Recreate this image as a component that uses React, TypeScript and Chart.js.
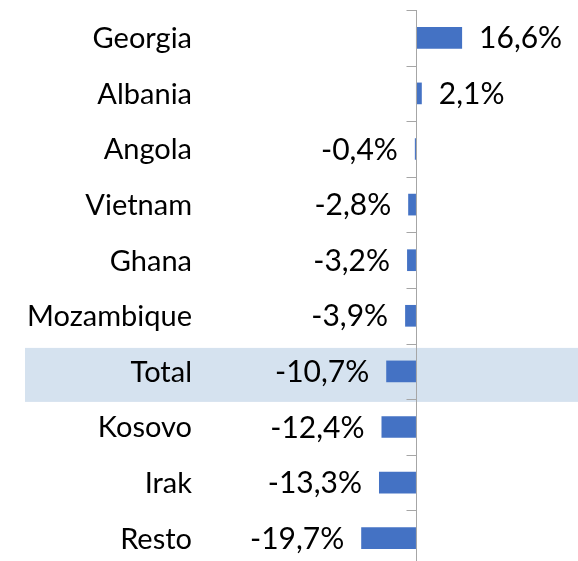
import React, { useEffect, useRef } from "react";
import { Chart, registerables } from "chart.js";

Chart.register(...registerables);

const categories = ["Georgia", "Albania", "Angola", "Vietnam", "Ghana", "Mozambique", "Total", "Kosovo", "Irak", "Resto"];
const values = [16.6, 2.1, -0.4, -2.8, -3.2, -3.9, -10.7, -12.4, -13.3, -19.7];
const highlightCategory = "Total";

const FONT = "Lato, 'Open Sans', sans-serif";
const CAT_SIZE = 29;
const VAL_SIZE = 30;

const fmt = (v: number) => v.toFixed(1).replace(".", ",") + "%";

const customPlugin = {
  id: "custom",
  beforeDraw(chart: any) {
    const { ctx } = chart;
    const y = chart.scales.y;
    const idx = categories.indexOf(highlightCategory);
    if (idx < 0) return;
    const cy = y.getPixelForValue(idx);
    ctx.save();
    ctx.fillStyle = "#D5E2EF";
    ctx.fillRect(25, cy - 23.5, chart.width - 25, 54);
    ctx.restore();
  },
  afterDatasetsDraw(chart: any) {
    const { ctx } = chart;
    const x = chart.scales.x;
    const y = chart.scales.y;
    const x0 = Math.round(x.getPixelForValue(0)) + 0.5;
    const rowH = (y.bottom - y.top) / categories.length;
    ctx.save();
    ctx.strokeStyle = "#A6A6A6";
    ctx.lineWidth = 1;
    ctx.beginPath();
    ctx.moveTo(x0, y.top);
    ctx.lineTo(x0, y.bottom);
    for (let k = 0; k <= categories.length; k++) {
      const ty = Math.round(y.top + k * rowH) + 0.5;
      ctx.moveTo(x0 - 10, ty);
      ctx.lineTo(x0, ty);
    }
    ctx.stroke();

    ctx.fillStyle = "#000000";
    ctx.textBaseline = "middle";
    ctx.font = `${CAT_SIZE}px ${FONT}`;
    ctx.textAlign = "right";
    categories.forEach((c, i) => {
      ctx.fillText(c, 192, y.getPixelForValue(i) + 1);
    });
    ctx.font = `${VAL_SIZE}px ${FONT}`;
    const meta = chart.getDatasetMeta(0);
    meta.data.forEach((bar: any, i: number) => {
      const v = values[i];
      if (v >= 0) {
        ctx.textAlign = "left";
        ctx.fillText(fmt(v), bar.x + 17, bar.y + 1);
      } else {
        ctx.textAlign = "right";
        ctx.fillText(fmt(v), bar.x - 17, bar.y + 1);
      }
    });
    ctx.restore();
  },
};

export default function App() {
  const ref = useRef<HTMLCanvasElement>(null);
  useEffect(() => {
    document.body.style.margin = "0";
    const chart = new Chart(ref.current!, {
      type: "bar",
      data: {
        labels: categories,
        datasets: [
          {
            data: values,
            backgroundColor: "#4472C4",
            borderWidth: 0,
            categoryPercentage: 1,
            barPercentage: 0.39,
          },
        ],
      },
      options: {
        indexAxis: "y",
        animation: false,
        responsive: false,
        maintainAspectRatio: false,
        layout: { padding: { top: 10, left: 200, right: 0, bottom: 0 } },
        plugins: { legend: { display: false }, tooltip: { enabled: false } },
        scales: {
          x: {
            display: false,
            min: -77.7,
            max: 58.3,
          },
          y: {
            display: false,
          },
        },
      },
      plugins: [customPlugin],
    });
    return () => chart.destroy();
  }, []);
  return (
    <div style={{ width: 578, height: 561, overflow: "hidden" }}>
      <canvas ref={ref} width={578} height={566} style={{ display: "block" }} />
    </div>
  );
}
